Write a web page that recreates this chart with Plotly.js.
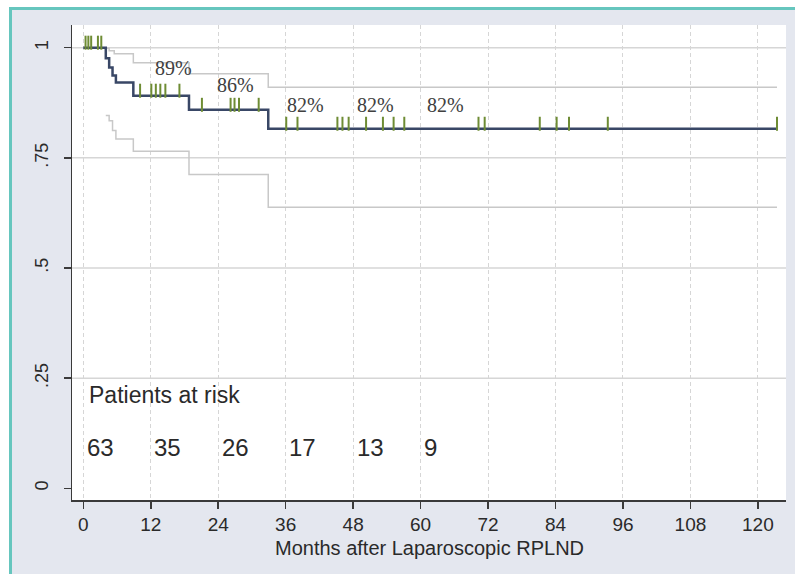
<!DOCTYPE html>
<html>
<head>
<meta charset="utf-8">
<script src="https://cdn.plot.ly/plotly-3.0.1.min.js"></script>
<style>
  html, body { margin:0; padding:0; background:#ffffff; width:795px; height:574px; overflow:hidden; }
  #frame { position:absolute; left:9px; top:7px; width:820px; height:620px; background:#e4e7ef;
           border-left:3px solid #66c6be; border-top:3px solid #66c6be; }
  #chart { position:absolute; left:0; top:0; width:795px; height:574px; }
</style>
</head>
<body>
<div id="frame"></div>
<div id="chart"></div>
<script>
// ---- Data ----
const kmTime = [0, 4.0, 4.6, 5.2, 5.8, 8.9, 18.8, 32.9, 123.4];
const kmSurv = [1, 0.976, 0.955, 0.937, 0.921, 0.891, 0.859, 0.816, 0.816];

const ciUpTime = [4.0, 4.6, 5.5, 8.9, 18.8, 32.9, 123.4];
const ciUpVal  = [0.999, 0.993, 0.986, 0.966, 0.941, 0.910, 0.910];

const ciLoTime = [4.0, 4.6, 5.2, 5.8, 8.9, 18.8, 32.9, 123.4];
const ciLoVal  = [0.846, 0.834, 0.812, 0.793, 0.765, 0.712, 0.638, 0.638];

const censorTimes = [0.4, 0.9, 1.4, 2.6, 3.2,
                     10.1, 12.1, 12.9, 13.7, 14.6, 17.1,
                     21.1, 26.2, 26.9, 27.7, 31.2,
                     36.1, 38.1, 45.2, 46.1, 47.2, 50.3, 53.3, 55.2, 57.1,
                     70.3, 71.4, 81.2, 84.2, 86.4, 93.3, 123.4];

const pctLabels = ['89%', '86%', '82%', '82%', '82%'];
const pctX = [16.0, 27.1, 39.5, 51.9, 64.5];
const pctY = [0.953, 0.915, 0.869, 0.869, 0.869];

const riskTimes = [0, 12, 24, 36, 48, 60];
const riskN = [63, 35, 26, 17, 13, 9];
const riskTitle = 'Patients at risk';

const xTicks = [0, 12, 24, 36, 48, 60, 72, 84, 96, 108, 120];
const yTicks = [0, 0.25, 0.5, 0.75, 1];
const yTickText = ['0', '.25', '.5', '.75', '1'];
const gridY = [0.25, 0.5, 0.75, 1];

const xTitle = 'Months after Laparoscopic RPLND';

// ---- helpers ----
function survAt(t) {
  let s = kmSurv[0];
  for (let i = 0; i < kmTime.length; i++) { if (kmTime[i] <= t) s = kmSurv[i]; }
  return s;
}
const yRange = [-0.0266, 1.0515];
const xRange = [-2.01, 125.0];
const plotH = 574 - 25 - 74;
const tickPx = 10;
const tickOff = (tickPx / 2) / (plotH / (yRange[1] - yRange[0]));

const sans = 'Liberation Sans, Arial, sans-serif';
const serif = 'Liberation Serif, Times New Roman, serif';

const traces = [
  { x: ciUpTime, y: ciUpVal, mode: 'lines', line: { shape: 'hv', color: '#c8c8c8', width: 1.5 }, hoverinfo: 'skip' },
  { x: ciLoTime, y: ciLoVal, mode: 'lines', line: { shape: 'hv', color: '#c8c8c8', width: 1.5 }, hoverinfo: 'skip' },
  { x: kmTime, y: kmSurv, mode: 'lines', line: { shape: 'hv', color: '#394766', width: 2.5 } },
  { x: censorTimes, y: censorTimes.map(t => survAt(t) + tickOff), mode: 'markers',
    marker: { symbol: 'line-ns', size: tickPx, line: { width: 2, color: '#6e8c34' } } }
];

const annotations = [];
pctLabels.forEach((s, i) => annotations.push({
  x: pctX[i], y: pctY[i], text: s, showarrow: false, xanchor: 'center', yanchor: 'middle',
  font: { family: serif, size: 20, color: '#404040' }
}));
riskN.forEach((n, i) => annotations.push({
  x: riskTimes[i] + 0.3, y: 0.092, text: String(n), showarrow: false, xanchor: 'left', yanchor: 'middle',
  font: { family: sans, size: 24, color: '#2a2a2a' }
}));
annotations.push({
  x: 0.6, y: 0.212, text: riskTitle, showarrow: false, xanchor: 'left', yanchor: 'middle',
  font: { family: sans, size: 23, color: '#2a2a2a' }
});
// x-axis title (placed as annotation for exact vertical spacing)
annotations.push({
  xref: 'paper', yref: 'paper', x: 0.5, y: -0.1, text: xTitle, showarrow: false,
  xanchor: 'center', yanchor: 'middle',
  font: { family: sans, size: 20, color: '#2a2a2a' }
});

const shapes = gridY.map(v => ({
  type: 'line', xref: 'paper', yref: 'y', x0: 0, x1: 1, y0: v, y1: v,
  line: { color: '#d6d6d6', width: 1.5 }, layer: 'below'
}));

const layout = {
  width: 795, height: 574,
  margin: { l: 72, r: 9, t: 25, b: 74, pad: 0 },
  paper_bgcolor: 'rgba(0,0,0,0)',
  plot_bgcolor: '#ffffff',
  showlegend: false,
  xaxis: {
    range: xRange, tickmode: 'array', tickvals: xTicks,
    showgrid: true, gridcolor: '#d6d6d6', griddash: '4px,3px', gridwidth: 1,
    zeroline: false, showline: true, linecolor: '#3a3a3a', linewidth: 1.5,
    ticks: 'outside', ticklen: 7, tickwidth: 1.5, tickcolor: '#3a3a3a',
    ticklabelstandoff: 0,
    tickfont: { family: sans, size: 19, color: '#2a2a2a' }
  },
  yaxis: {
    range: yRange, tickmode: 'array', tickvals: yTicks, ticktext: yTickText, tickangle: -90,
    showgrid: false, zeroline: false, showline: true, linecolor: '#3a3a3a', linewidth: 1.5,
    ticks: 'outside', ticklen: 7, tickwidth: 1.5, tickcolor: '#3a3a3a',
    ticklabelstandoff: 8,
    tickfont: { family: sans, size: 18, color: '#2a2a2a' }
  },
  annotations: annotations,
  shapes: shapes
};

Plotly.newPlot('chart', traces, layout, { staticPlot: true, displayModeBar: false });
</script>
</body>
</html>
